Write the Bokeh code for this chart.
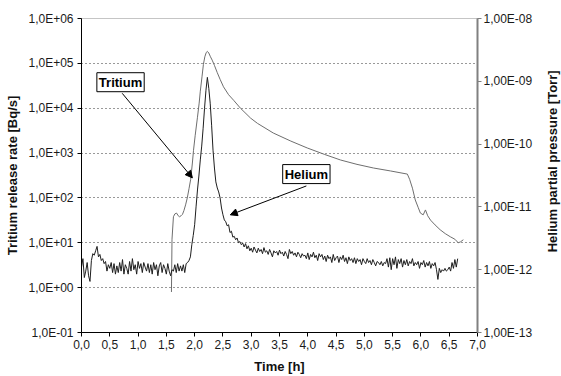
import math
import numpy as np
from bokeh.plotting import figure
from bokeh.layouts import row
from bokeh.models import (Range1d, LogScale, LogAxis, FixedTicker,
                          Arrow, NormalHead, Label)
from bokeh.core.properties import value
from bokeh.embed import file_html
from bokeh.resources import INLINE

# ---------------- data ----------------
# Helium partial pressure (black, right axis), in 1e-12 Torr, every 0.025 h
helium_step_h = 0.025
helium_pTorr = [
    1.1, 1.5, 0.75, 0.95, 1.3, 0.8, 0.65, 1.4, 1.8, 1.7,
    2.0, 2.35, 1.6, 1.75, 1.4, 1.5, 1.25, 1.35, 0.95, 1.2,
    1.05, 1.3, 0.9, 1.25, 0.85, 1.15, 0.9, 1.3, 0.95, 1.45,
    0.85, 1.2, 1.05, 0.85, 1.35, 0.95, 1.5, 1.0, 1.2, 0.85,
    1.35, 1.05, 1.25, 0.9, 1.3, 1.1, 0.95, 1.25, 0.9, 1.2,
    0.85, 1.3, 1.0, 1.2, 0.8, 1.15, 1.3, 0.9, 1.2, 1.05,
    0.85, 1.25, 0.95, 0.8, 1.0, 0.95, 1.2, 0.9, 1.25, 0.95,
    1.15, 0.95, 1.2, 0.9, 1.25, 1.3, 1.4, 1.6, 2.5, 3.5,
    5.2, 10, 18.6, 31, 56, 93, 179, 372, 720, 1156,
    774, 448, 200, 80, 41.6, 25, 20, 17.3, 13.9, 9.6,
    7.5, 6.2, 5.8, 5.0, 5.2, 3.9, 4.1, 3.3, 3.4, 3.0,
    3.2, 2.7, 2.8, 2.5, 2.65, 2.3, 2.6, 2.15, 2.4, 2.0,
    2.2, 1.9, 2.3, 2.05, 1.85, 2.2, 1.95, 2.1, 1.8, 2.25,
    1.9, 2.0, 1.75, 2.1, 1.85, 1.6, 2.0, 1.85, 1.95, 1.7,
    2.05, 1.8, 1.9, 1.65, 1.95, 1.75, 1.5, 2.1, 1.8, 1.95,
    1.7, 1.85, 1.6, 1.9, 1.75, 1.55, 1.8, 1.65, 1.7, 1.5,
    1.85, 1.45, 1.75, 1.6, 1.9, 1.55, 1.7, 1.4, 1.8, 1.6,
    1.75, 1.45, 1.65, 1.35, 1.7, 1.5, 1.6, 1.3, 1.75, 1.4,
    1.55, 1.65, 1.3, 1.6, 1.45, 1.7, 1.35, 1.55, 1.25, 1.6,
    1.4, 1.5, 1.3, 1.55, 1.25, 1.5, 1.35, 1.45, 1.2, 1.5,
    1.35, 1.25, 1.5, 1.3, 1.4, 1.2, 1.45, 1.3, 1.15, 1.35,
    1.3, 1.2, 1.35, 1.15, 1.3, 1.25, 1.5, 1.1, 1.55, 1.0,
    1.5, 1.2, 1.6, 1.05, 1.45, 1.25, 1.5, 1.1, 1.4, 1.2,
    1.45, 1.15, 1.35, 1.25, 1.5, 1.15, 1.3, 1.2, 1.35, 1.05,
    1.3, 1.2, 1.4, 1.1, 1.3, 1.15, 1.35, 1.05, 1.25, 1.15,
    1.3, 1.0, 0.7, 1.05, 0.9, 1.0, 0.95, 1.05, 0.95, 1.0,
    1.1, 0.95, 1.3, 1.05, 1.45, 1.1, 1.5,
]
helium_time_h = [round(i * helium_step_h, 3) for i in range(len(helium_pTorr))]

# Tritium release rate (grey, left axis) [Bq/s]
tritium_time_h = [1.59, 1.60, 1.625, 1.65, 1.68, 1.71, 1.73, 1.76, 1.785, 1.81,
                  1.84, 1.87, 1.90, 1.93, 1.96, 1.98, 2.01, 2.05, 2.08, 2.10,
                  2.13, 2.155, 2.18, 2.205, 2.225, 2.25, 2.28, 2.31, 2.35, 2.40,
                  2.45, 2.51, 2.60, 2.69, 2.81, 2.99, 3.11, 3.39, 3.70, 3.99,
                  4.30, 4.58, 4.87, 5.16, 5.46, 5.76, 5.80, 5.85, 5.90, 5.95,
                  5.99, 6.04, 6.08, 6.12, 6.17, 6.25, 6.34, 6.43, 6.52, 6.60,
                  6.66, 6.70, 6.75]
tritium_bq_s = [0.8, 12, 38, 44, 46, 40, 38, 40, 43, 52,
                70, 100, 160, 260, 600, 1150, 2500, 6300, 13000, 24000,
                50000, 95000, 140000, 175000, 185000, 170000, 140000, 118000, 90000, 62000,
                44000, 30000, 20000, 15000, 10000, 6000, 4600, 2800, 1850, 1300,
                930, 700, 560, 465, 400, 340, 260, 165, 90, 62,
                46, 42, 54, 40, 32, 25, 19.5, 16, 13.6, 12,
                10, 10.5, 11.7]

x_ticks = [0.0, 0.5, 1.0, 1.5, 2.0, 2.5, 3.0, 3.5, 4.0, 4.5, 5.0, 5.5, 6.0, 6.5, 7.0]
x_tick_labels = ["0,0", "0,5", "1,0", "1,5", "2,0", "2,5", "3,0", "3,5",
                 "4,0", "4,5", "5,0", "5,5", "6,0", "6,5", "7,0"]
left_ticks = [1e-1, 1e0, 1e1, 1e2, 1e3, 1e4, 1e5, 1e6]
left_tick_labels = ["1,0E-01", "1,0E+00", "1,0E+01", "1,0E+02",
                    "1,0E+03", "1,0E+04", "1,0E+05", "1,0E+06"]
right_ticks = [1e-13, 1e-12, 1e-11, 1e-10, 1e-9, 1e-8]
right_tick_labels = ["1,00E-13", "1,00E-12", "1,00E-11", "1,00E-10",
                     "1,00E-09", "1,00E-08"]
right_title = "Helium partial pressure [Torr]"

# annotation anchors (data units of the bottom / left axes)
tritium_label = (0.69, 3.8e4)
tritium_arrow = (0.72, 2.15e4, 1.96, 280)
helium_label = (3.975, 340)
helium_arrow = (3.975, 185, 2.63, 42)

FONT = "Liberation Sans"

# ---------------- main figure ----------------
p = figure(width=541, height=376, x_range=Range1d(0, 7), y_range=Range1d(0.1, 1e6),
           y_axis_type="log", output_backend="svg", toolbar_location=None,
           min_border_left=81, min_border_right=64, min_border_top=18,
           min_border_bottom=43)
p.extra_y_ranges = {"he": Range1d(1e-13, 1e-8)}
p.extra_y_scales = {"he": LogScale()}
p.background_fill_color = "white"
p.border_fill_color = "white"
p.outline_line_color = "#8a8a8a"
p.outline_line_dash = "1 1"
p.outline_line_width = 1

# grid
p.xgrid.visible = False
p.ygrid.ticker = FixedTicker(ticks=left_ticks[1:-1])
p.ygrid.grid_line_color = "#333333"
p.ygrid.grid_line_dash = "1 3"
p.ygrid.grid_line_width = 1

# bottom axis
xa = p.xaxis[0]
xa.ticker = FixedTicker(ticks=x_ticks)
xa.major_label_overrides = {t: l for t, l in zip(x_ticks, x_tick_labels)}
xa.axis_label = "Time [h]"

# left axis
ya = p.yaxis[0]
ya.ticker = FixedTicker(ticks=left_ticks)
ya.major_label_overrides = {t: l for t, l in zip(left_ticks, left_tick_labels)}
ya.axis_label = "Tritium release rate [Bq/s]"

# right axis (its title sits in a narrow strip figure so that it reads upwards)
ra = LogAxis(y_range_name="he")
ra.ticker = FixedTicker(ticks=right_ticks)
ra.major_label_overrides = {t: l for t, l in zip(right_ticks, right_tick_labels)}
p.add_layout(ra, "right")

for ax in (xa, ya, ra):
    ax.major_label_text_font = FONT
    ax.major_label_text_font_size = "12px"
    ax.major_label_text_color = "#1a1a1a"
    ax.axis_label_text_font = FONT
    ax.axis_label_text_font_size = "13px"
    ax.axis_label_text_font_style = "bold"
    ax.axis_label_text_color = "#111111"
    ax.minor_tick_line_color = None
    ax.major_tick_in = 0
    ax.major_tick_out = 4
    ax.axis_line_color = "black"
    ax.major_tick_line_color = "black"

xa.major_label_standoff = 3
xa.axis_label_standoff = 7
ya.major_label_standoff = 4
ya.axis_label_standoff = 5
ra.major_label_standoff = 2
ra.axis_line_color = "#808080"
ra.axis_line_width = 2
ra.major_tick_line_color = "#808080"

# lines
p.line(tritium_time_h, tritium_bq_s, line_color="#6e6e6e", line_width=1)
p.line(helium_time_h, np.array(helium_pTorr) * 1e-12, y_range_name="he",
       line_color="#1e1e1e", line_width=1)

# annotations
for (x0, y0, x1, y1) in (tritium_arrow, helium_arrow):
    p.add_layout(Arrow(x_start=x0, y_start=y0, x_end=x1, y_end=y1,
                       line_color="black", line_width=1,
                       end=NormalHead(size=7, fill_color="black", line_color="black")))

for (lx, ly), txt in ((tritium_label, "Tritium"), (helium_label, "Helium")):
    p.add_layout(Label(x=lx, y=ly, text=txt, text_align="center", text_baseline="middle",
                       text_font=FONT, text_font_size="13px", text_font_style="bold",
                       text_color="black", border_line_color="black", border_line_width=1,
                       background_fill_color="white", padding=2))

# ---------------- strip holding the right-axis title ----------------
strip = figure(width=20, height=376, x_range=Range1d(0, 1), y_range=Range1d(0, 1),
               output_backend="svg", toolbar_location=None,
               x_axis_location=None, y_axis_location=None, min_border=0)
strip.outline_line_color = None
strip.grid.visible = False
strip.background_fill_color = "white"
strip.border_fill_color = "white"
strip.text(x=[0.55], y=[0.545], text=[right_title], angle=math.pi / 2,
           text_align="center", text_baseline="middle",
           text_font=value(FONT), text_font_size="13px", text_font_style="bold",
           text_color="#111111")

layout = row(p, strip, spacing=0)
open("out.html", "w").write(file_html(layout, INLINE))
